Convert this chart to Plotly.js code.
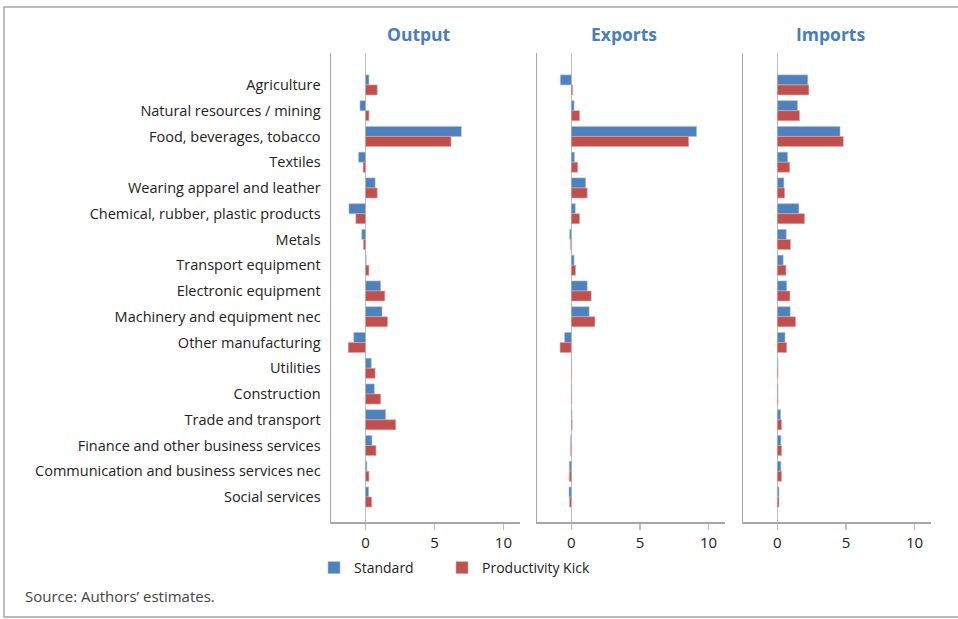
<!DOCTYPE html>
<html>
<head>
<meta charset="utf-8">
<script src="https://cdn.plot.ly/plotly-3.0.1.min.js"></script>
<style>html,body{margin:0;padding:0;background:#fff;}#chart{width:958px;height:619px;}</style>
</head>
<body>
<div id="chart"></div>
<script>
const categories = [
  "Agriculture",
  "Natural resources / mining",
  "Food, beverages, tobacco",
  "Textiles",
  "Wearing apparel and leather",
  "Chemical, rubber, plastic products",
  "Metals",
  "Transport equipment",
  "Electronic equipment",
  "Machinery and equipment nec",
  "Other manufacturing",
  "Utilities",
  "Construction",
  "Trade and transport",
  "Finance and other business services",
  "Communication and business services nec",
  "Social services"
];
const panelTitles = ["Output", "Exports", "Imports"];
const seriesNames = ["Standard", "Productivity Kick"];

const outputStandard = [0.25, -0.4, 6.95, -0.5, 0.7, -1.2, -0.27, 0.05, 1.1, 1.2, -0.85, 0.42, 0.64, 1.46, 0.47, 0.1, 0.23];
const outputKick     = [0.85, 0.25, 6.2, -0.17, 0.85, -0.7, -0.15, 0.25, 1.4, 1.6, -1.25, 0.7, 1.1, 2.19, 0.76, 0.25, 0.45];
const exportsStandard = [-0.8, 0.2, 9.13, 0.22, 1.04, 0.29, -0.12, 0.2, 1.16, 1.3, -0.49, 0.03, 0.03, 0.05, -0.05, -0.15, -0.17];
const exportsKick     = [0.1, 0.6, 8.55, 0.46, 1.16, 0.6, -0.05, 0.31, 1.45, 1.72, -0.82, 0.03, 0.03, 0.06, -0.05, -0.15, -0.13];
const importsStandard = [2.22, 1.47, 4.57, 0.75, 0.48, 1.57, 0.65, 0.43, 0.68, 0.94, 0.56, 0.05, 0.05, 0.24, 0.26, 0.26, 0.12];
const importsKick     = [2.3, 1.62, 4.81, 0.9, 0.53, 1.98, 0.96, 0.63, 0.92, 1.33, 0.68, 0.05, 0.05, 0.31, 0.31, 0.31, 0.12];
const xTicks = [0, 5, 10];

const W = 958, H = 619;
const px = v => v / W;
const py = v => 1 - v / H;

const blue = "#4f81bd", red = "#c0504d";
const panels = [
  {std: outputStandard, kick: outputKick, x0: 331, x1: 520},
  {std: exportsStandard, kick: exportsKick, x0: 537, x1: 725},
  {std: importsStandard, kick: importsKick, x0: 743, x1: 931}
];

const legendBase = {orientation: "h", yanchor: "top", xanchor: "left",
  font: {size: 14, color: "#222"}, bgcolor: "rgba(0,0,0,0)"};

const traces = [];
const layout = {
  width: W, height: H,
  margin: {l: 0, r: 0, t: 0, b: 0},
  paper_bgcolor: "#fff", plot_bgcolor: "#fff",
  font: {family: "Open Sans, Noto Sans, sans-serif", size: 14, color: "#222"},
  barmode: "group",
  bargap: 0.22,
  bargroupgap: 0,
  showlegend: true,
  legend: Object.assign({}, legendBase, {x: px(314), y: py(552)}),
  legend2: Object.assign({}, legendBase, {x: px(442), y: py(552)}),
  annotations: [],
  shapes: [
    {type: "rect", xref: "paper", yref: "paper", x0: px(4), x1: px(962), y0: py(617), y1: py(7),
     line: {color: "#a6a6a6", width: 1.5}, fillcolor: "rgba(0,0,0,0)"}
  ]
};

panels.forEach((p, i) => {
  const n = i === 0 ? "" : String(i + 1);
  traces.push({type: "bar", orientation: "h", name: seriesNames[0], y: categories, x: p.std,
    xaxis: "x" + n, yaxis: "y" + n, marker: {color: blue, line: {color: "#a9c1e0", width: 0.6}},
    showlegend: i === 0, legend: "legend", legendgroup: "s", hoverinfo: "x+y"});
  traces.push({type: "bar", orientation: "h", name: seriesNames[1], y: categories, x: p.kick,
    xaxis: "x" + n, yaxis: "y" + n, marker: {color: red, line: {color: "#e0a9a8", width: 0.6}},
    showlegend: i === 0, legend: "legend2", legendgroup: "k", hoverinfo: "x+y"});
  layout["xaxis" + n] = {
    domain: [px(p.x0), px(p.x1)], anchor: "y" + n, range: [-2.5, 11.2],
    tickvals: xTicks, ticktext: xTicks.map(String), ticks: "outside", ticklen: 6, tickwidth: 1.5,
    tickcolor: "#bfbfbf", showgrid: false, showline: true, linecolor: "#a6a6a6", linewidth: 1.5,
    zeroline: true, zerolinecolor: "#bfbfbf", zerolinewidth: 1.5,
    tickfont: {size: 15, color: "#222"}, fixedrange: true
  };
  layout["yaxis" + n] = {
    domain: [py(522), py(53)], anchor: "x" + n, type: "category",
    categoryorder: "array", categoryarray: categories,
    range: [16.97, -1.24], showgrid: false, showline: true, linecolor: "#a6a6a6", linewidth: 1.5,
    ticks: "", showticklabels: i === 0, ticklabelstandoff: 6,
    tickfont: {size: 14.5, color: "#222"}, fixedrange: true
  };
  layout.annotations.push({text: "<b>" + panelTitles[i] + "</b>", xref: "paper", yref: "paper",
    x: px((p.x0 + p.x1) / 2 - 7), y: py(34), xanchor: "center", yanchor: "middle", showarrow: false,
    font: {size: 17.5, color: "#4a7ebb"}});
});

layout.annotations.push({text: "Source: Authors’ estimates.", xref: "paper", yref: "paper",
  x: px(23), y: py(596), xanchor: "left", yanchor: "middle", showarrow: false,
  font: {size: 15, color: "#444"}});

Plotly.newPlot("chart", traces, layout, {displayModeBar: false, staticPlot: true});
</script>
</body>
</html>
